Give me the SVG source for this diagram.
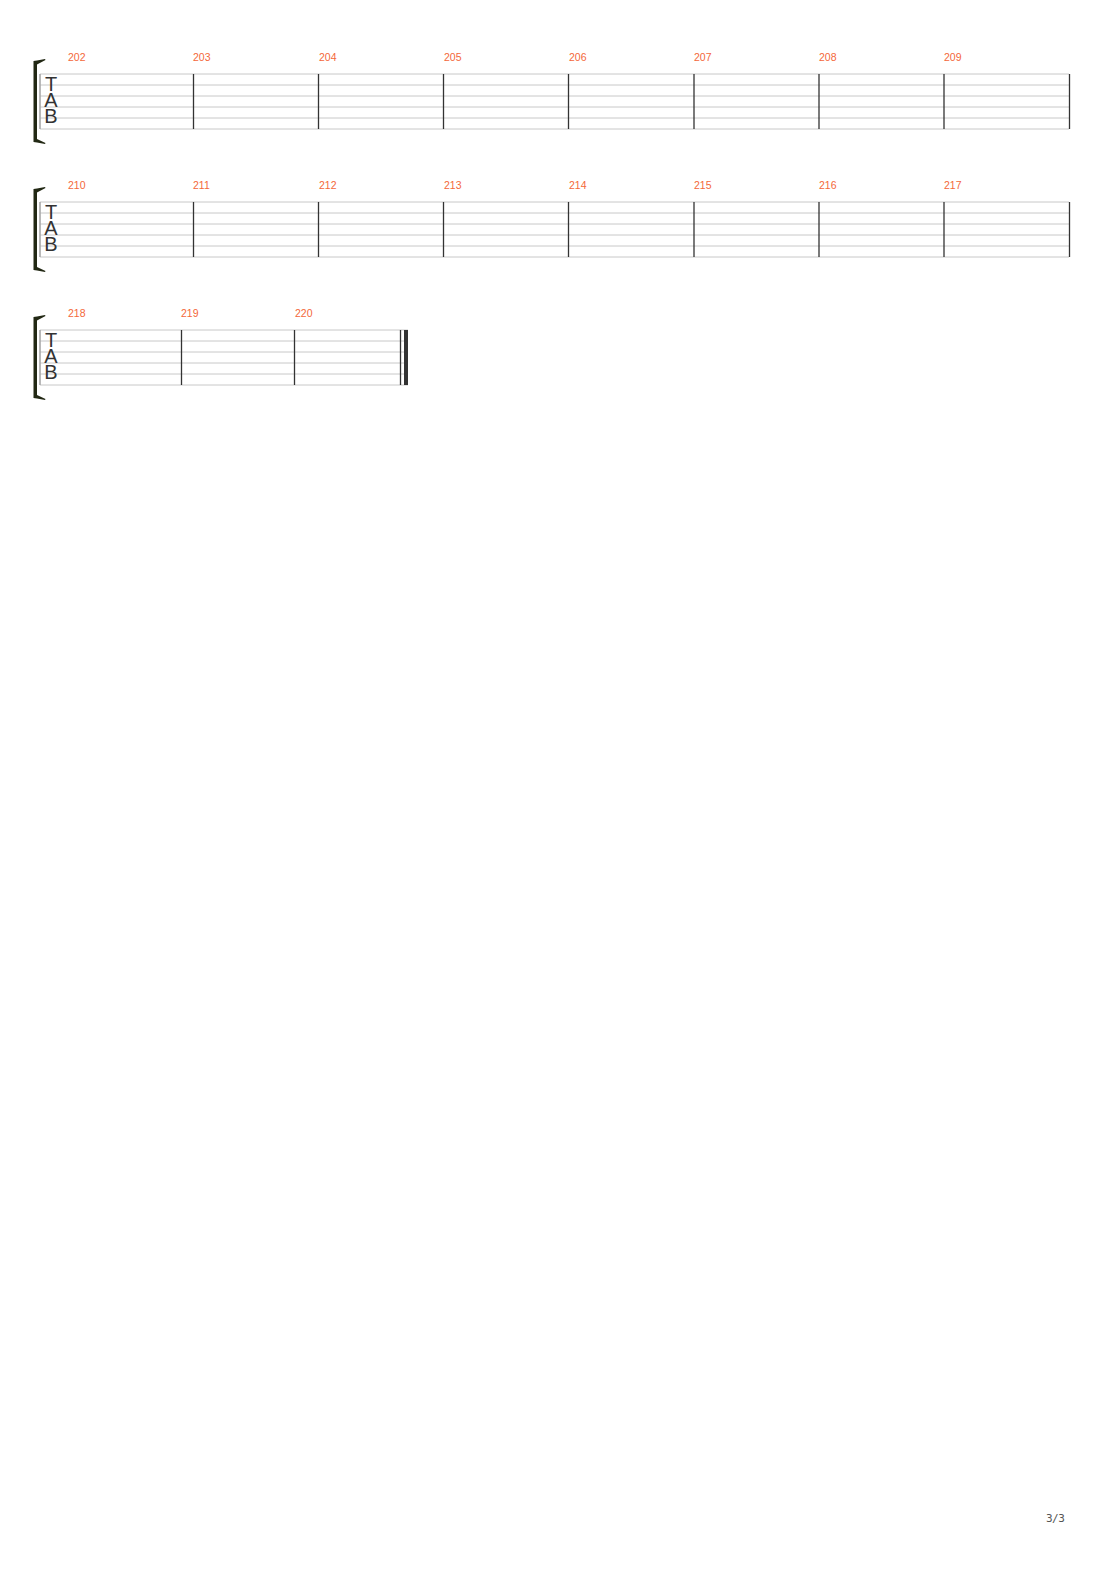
<svg xmlns="http://www.w3.org/2000/svg" width="1110" height="1570" viewBox="0 0 1110 1570">
<style>
.line{stroke:#c8c8c8;stroke-width:1}
.bar{stroke:#333;stroke-width:1.3}
.left{stroke:#a8a8a8;stroke-width:1.6}
.num{font-family:"Liberation Sans",Arial,sans-serif;font-size:10.5px;fill:#f4683a}
.tab{font-family:"Liberation Sans",Arial,sans-serif;font-size:20px;fill:#333;text-anchor:middle}
.brk{fill:#222814}
.pg{font-family:"DejaVu Sans Mono","Liberation Mono",monospace;font-size:11px;fill:#555;letter-spacing:-0.5px}
</style>
<defs>
<g id="lines">
<line class="line" x1="40" y1="0" x2="1069" y2="0"/>
<line class="line" x1="40" y1="11" x2="1069" y2="11"/>
<line class="line" x1="40" y1="22" x2="1069" y2="22"/>
<line class="line" x1="40" y1="33" x2="1069" y2="33"/>
<line class="line" x1="40" y1="44" x2="1069" y2="44"/>
<line class="line" x1="40" y1="55" x2="1069" y2="55"/>
</g>
<g id="lines3">
<line class="line" x1="40" y1="0" x2="408" y2="0"/>
<line class="line" x1="40" y1="11" x2="408" y2="11"/>
<line class="line" x1="40" y1="22" x2="408" y2="22"/>
<line class="line" x1="40" y1="33" x2="408" y2="33"/>
<line class="line" x1="40" y1="44" x2="408" y2="44"/>
<line class="line" x1="40" y1="55" x2="408" y2="55"/>
</g>
<g id="head">
<path class="brk" d="M33.5,-13 L37,-13.5 L45,-15 L45.5,-14 L37,-9.5 L37,65 L45.5,69 L45,70 L37,68.5 L33.5,68 Z"/>
<line class="left" x1="40" y1="0" x2="40" y2="55"/>
<text class="tab" x="51" y="17">T</text>
<text class="tab" x="51" y="33">A</text>
<text class="tab" x="51" y="49">B</text>
</g>
<g id="bars8">
<line class="bar" x1="193.5" y1="0" x2="193.5" y2="55"/>
<line class="bar" x1="318.5" y1="0" x2="318.5" y2="55"/>
<line class="bar" x1="443.5" y1="0" x2="443.5" y2="55"/>
<line class="bar" x1="568.5" y1="0" x2="568.5" y2="55"/>
<line class="bar" x1="694" y1="0" x2="694" y2="55"/>
<line class="bar" x1="819" y1="0" x2="819" y2="55"/>
<line class="bar" x1="944" y1="0" x2="944" y2="55"/>
<line class="bar" x1="1069.5" y1="0" x2="1069.5" y2="55"/>
</g>
</defs>

<g id="system1" transform="translate(0,74)">
<use href="#lines"/>
<use href="#head"/>
<use href="#bars8"/>
<text class="num" x="68" y="-13">202</text>
<text class="num" x="193" y="-13">203</text>
<text class="num" x="319" y="-13">204</text>
<text class="num" x="444" y="-13">205</text>
<text class="num" x="569" y="-13">206</text>
<text class="num" x="694" y="-13">207</text>
<text class="num" x="819" y="-13">208</text>
<text class="num" x="944" y="-13">209</text>
</g>

<g id="system2" transform="translate(0,202)">
<use href="#lines"/>
<use href="#head"/>
<use href="#bars8"/>
<text class="num" x="68" y="-13">210</text>
<text class="num" x="193" y="-13">211</text>
<text class="num" x="319" y="-13">212</text>
<text class="num" x="444" y="-13">213</text>
<text class="num" x="569" y="-13">214</text>
<text class="num" x="694" y="-13">215</text>
<text class="num" x="819" y="-13">216</text>
<text class="num" x="944" y="-13">217</text>
</g>

<g id="system3" transform="translate(0,330)">
<use href="#lines3"/>
<use href="#head"/>
<line class="bar" x1="181.5" y1="0" x2="181.5" y2="55"/>
<line class="bar" x1="294.5" y1="0" x2="294.5" y2="55"/>
<line class="bar" x1="400.5" y1="0" x2="400.5" y2="55"/>
<rect x="404" y="0" width="4" height="55" fill="#333"/>
<text class="num" x="68" y="-13">218</text>
<text class="num" x="181" y="-13">219</text>
<text class="num" x="295" y="-13">220</text>
</g>

<text id="page" class="pg" x="1046" y="1522">3/3</text>
</svg>
